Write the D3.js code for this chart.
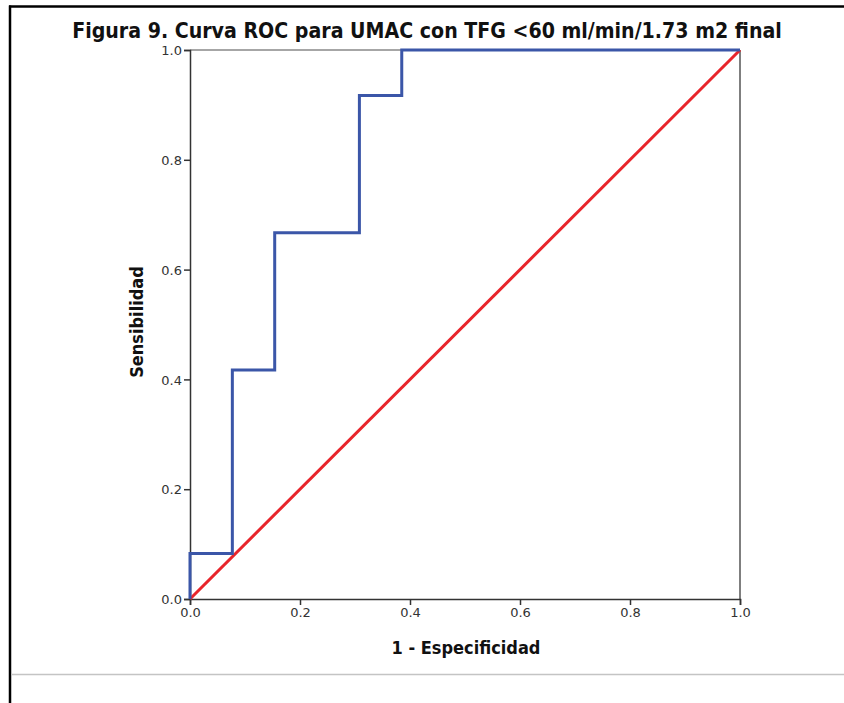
<!DOCTYPE html>
<html>
<head>
<meta charset="utf-8">
<script src="https://cdn.jsdelivr.net/npm/d3@7"></script>
<style>
body { margin: 0; background: #fff; }
svg { display: block; }
</style>
</head>
<body>
<div id="chart"></div>
<script>
// ROC steps (1 - especificidad, sensibilidad)
var fpr = [0, 0, 0.077, 0.077, 0.154, 0.154, 0.308, 0.308, 0.385, 0.385, 1.0];
var tpr = [0, 0.083, 0.083, 0.417, 0.417, 0.667, 0.667, 0.917, 0.917, 1.0, 1.0];
var refX = [0, 1];
var refY = [0, 1];
var ticks = [0, 0.2, 0.4, 0.6, 0.8, 1.0];

var width = 844, height = 703;
var svg = d3.select("#chart")
    .append("svg")
    .attr("width", width)
    .attr("height", height);

// page frame lines
svg.append("line").attr("x1", 9).attr("x2", width).attr("y1", 6.5).attr("y2", 6.5)
    .attr("stroke", "#000").attr("stroke-width", 2.5);
svg.append("line").attr("x1", 10).attr("x2", 10).attr("y1", 5.5).attr("y2", height)
    .attr("stroke", "#000").attr("stroke-width", 2.5);
svg.append("line").attr("x1", 11).attr("x2", width).attr("y1", 674.5).attr("y2", 674.5)
    .attr("stroke", "#c4c4c4").attr("stroke-width", 1.5);

var x = d3.scaleLinear().domain([0, 1]).range([190, 740]);
var y = d3.scaleLinear().domain([0, 1]).range([599, 50]);

var title = svg.append("text")
    .attr("x", 427)
    .attr("y", 38)
    .attr("text-anchor", "middle")
    .attr("font-family", "DejaVu Sans Condensed, DejaVu Sans")
    .attr("font-weight", "bold")
    .attr("font-size", 19)
    .attr("fill", "#111")
    .text("Figura 9. Curva ROC para UMAC con TFG <60 ml/min/1.73 m2 final");
var tw = title.node().getComputedTextLength();
title.attr("font-size", 19 * 710 / tw);

// plot frame top / right
svg.append("line").attr("x1", x(0)).attr("x2", x(1)).attr("y1", y(1)).attr("y2", y(1))
    .attr("stroke", "#888").attr("stroke-width", 1.5);
svg.append("line").attr("x1", x(1)).attr("x2", x(1)).attr("y1", y(1)).attr("y2", y(0))
    .attr("stroke", "#555").attr("stroke-width", 1.5);

var xAxis = svg.append("g")
    .attr("transform", "translate(0," + y(0) + ")")
    .call(d3.axisBottom(x).tickValues(ticks).tickFormat(d3.format(".1f")).tickSize(6).tickPadding(3));
var yAxis = svg.append("g")
    .attr("transform", "translate(" + x(0) + ",0)")
    .call(d3.axisLeft(y).tickValues(ticks).tickFormat(d3.format(".1f")).tickSize(6).tickPadding(2));

[xAxis, yAxis].forEach(function(a) {
    a.select(".domain").attr("stroke", "#333").attr("stroke-width", 1.5);
    a.selectAll(".tick line").attr("stroke", "#333").attr("stroke-width", 1.5);
    a.selectAll(".tick text")
        .attr("font-family", "DejaVu Sans")
        .attr("font-size", 13)
        .attr("fill", "#333");
});
yAxis.selectAll(".tick text").attr("dy", "0.36em");

var line = d3.line()
    .x(function(d) { return x(d[0]); })
    .y(function(d) { return y(d[1]); });

svg.append("path")
    .datum(d3.zip(refX, refY))
    .attr("d", line)
    .attr("fill", "none")
    .attr("stroke", "#e8252b")
    .attr("stroke-width", 3);

svg.append("path")
    .datum(d3.zip(fpr, tpr))
    .attr("d", line)
    .attr("fill", "none")
    .attr("stroke", "#3b56a8")
    .attr("stroke-width", 3);

svg.append("text")
    .attr("x", 466)
    .attr("y", 654)
    .attr("text-anchor", "middle")
    .attr("font-family", "DejaVu Sans Condensed, DejaVu Sans")
    .attr("font-weight", "bold")
    .attr("font-size", 18)
    .attr("fill", "#111")
    .text("1 - Especificidad");

svg.append("text")
    .attr("transform", "translate(143,322) rotate(-90)")
    .attr("text-anchor", "middle")
    .attr("font-family", "DejaVu Sans Condensed, DejaVu Sans")
    .attr("font-weight", "bold")
    .attr("font-size", 18)
    .attr("fill", "#111")
    .text("Sensibilidad");
</script>
</body>
</html>
